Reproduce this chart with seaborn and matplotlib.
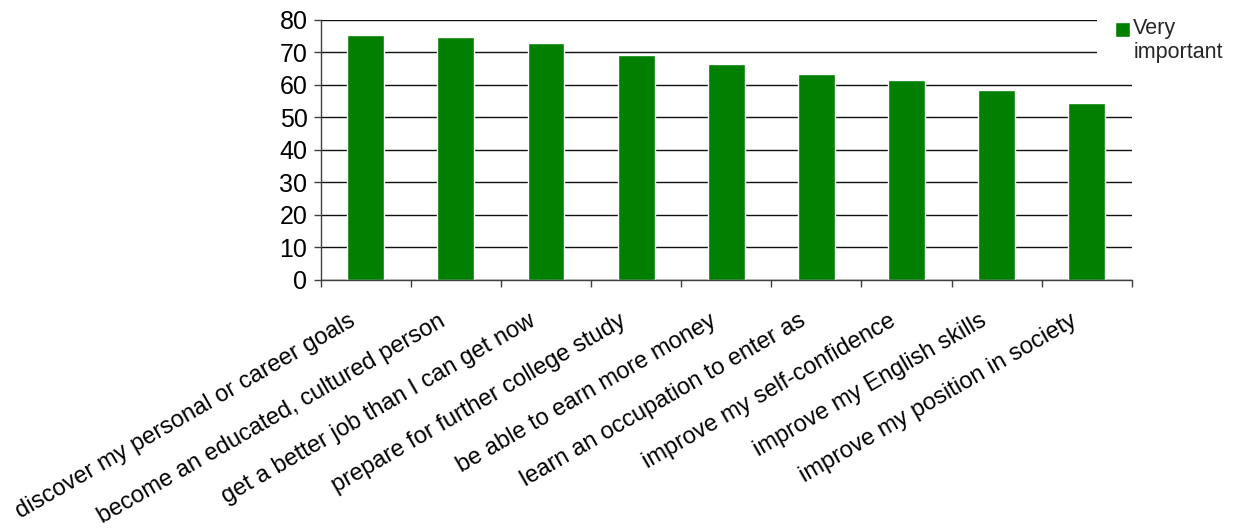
import matplotlib
matplotlib.use("Agg")
import matplotlib.pyplot as plt
from matplotlib.transforms import ScaledTranslation
import seaborn as sns
import pandas as pd

# Reasons for attending college, share rating each "Very important" (%)
reasons = [
    "discover my personal or career goals",
    "become an educated, cultured person",
    "get a better job than I can get now",
    "prepare for further college study",
    "be able to earn more money",
    "learn an occupation to enter as",
    "improve my self-confidence",
    "improve my English skills",
    "improve my position in society",
]
very_important = [75.3, 74.7, 72.9, 69.2, 66.4, 63.3, 61.5, 58.4, 54.5]
series_name = "Very important"
y_ticks = [0, 10, 20, 30, 40, 50, 60, 70, 80]

df = pd.DataFrame({"reason": reasons, "pct": very_important, "series": series_name})

sns.set_theme(style="white")
plt.rcParams["font.family"] = ["Liberation Sans", "DejaVu Sans"]

fig = plt.figure(figsize=(12.37, 5.29), dpi=100)
ax = fig.add_axes([0.2593, 0.4711, 0.6556, 0.4915])

sns.barplot(data=df, x="reason", y="pct", hue="series", palette=["#007f00"],
            width=0.41, ax=ax, legend=True, saturation=1)

ax.set_ylim(0, 80)
ax.set_xlim(-0.5, len(reasons) - 0.5)
ax.set_yticks(y_ticks)
ax.set_yticklabels([str(v) for v in y_ticks])
ax.set_xlabel("")
ax.set_ylabel("")

# horizontal gridlines behind the bars
ax.set_axisbelow(True)
ax.yaxis.grid(True, color="#101010", linewidth=1.0)
ax.xaxis.grid(False)

for side in ("top", "right"):
    ax.spines[side].set_visible(False)
for side in ("left", "bottom"):
    ax.spines[side].set_visible(True)
    ax.spines[side].set_color("#404040")
    ax.spines[side].set_linewidth(1.0)

# category labels under each bar, slanted
ax.set_xticks(range(len(reasons)))
ax.set_xticklabels(reasons, rotation=30, ha="right", va="center",
                   rotation_mode="anchor", fontsize=17, color="black")
ax.tick_params(axis="x", length=0, pad=28.5)
shift = ScaledTranslation(-12 / 100, 0, fig.dpi_scale_trans)
for lbl in ax.get_xticklabels():
    lbl.set_transform(lbl.get_transform() + shift)
# boundary tick marks between categories
ax.set_xticks([i - 0.5 for i in range(len(reasons) + 1)], minor=True)
ax.tick_params(axis="x", which="minor", length=5.3, width=1, color="#404040",
               direction="out", bottom=True)
ax.tick_params(axis="y", length=5.3, width=1, color="#404040", direction="out",
               left=True, labelsize=18, pad=4.3, labelcolor="black")

handles = ax.get_legend_handles_labels()[0]
leg = ax.legend(handles=handles, labels=["Very\nimportant"],
                loc="upper left", bbox_to_anchor=(1097 / 1237, 1.0),
                bbox_transform=fig.transFigure, frameon=True, fontsize=15.5,
                handlelength=0.68, handleheight=0.68, handletextpad=0.15,
                borderpad=0.85, borderaxespad=0, framealpha=1.0)
leg.get_frame().set_facecolor("white")
leg.get_frame().set_edgecolor("white")
leg.get_frame().set_linewidth(0)
leg.get_frame().set_boxstyle("square", pad=0)
# line the swatch up with the first line of the label
for patch in leg.get_patches():
    patch.set_y(patch.get_y() + 8.6)

fig.savefig("out.png", dpi=100, facecolor="white")
